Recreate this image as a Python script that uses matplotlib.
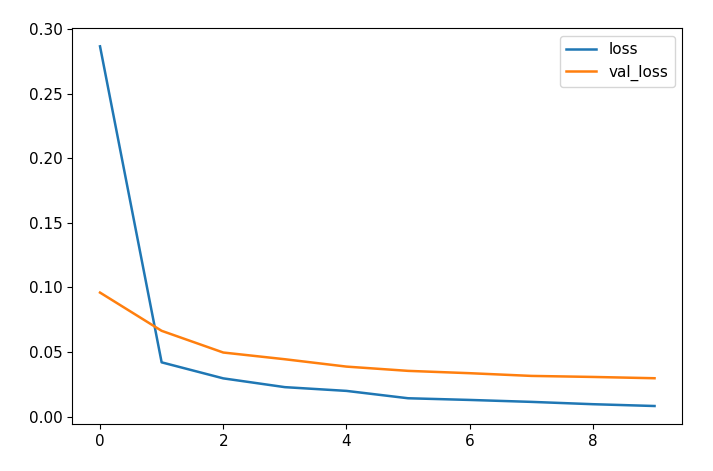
import matplotlib
matplotlib.use("Agg")
import matplotlib.pyplot as plt

# training history
epochs = [0, 1, 2, 3, 4, 5, 6, 7, 8, 9]
loss = [0.2866, 0.0420, 0.0296, 0.0228, 0.0199, 0.0142, 0.0129, 0.0114, 0.0096, 0.0082]
val_loss = [0.0960, 0.0664, 0.0496, 0.0444, 0.0387, 0.0354, 0.0336, 0.0315, 0.0307, 0.0297]

fig = plt.figure(figsize=(7.13, 4.71), dpi=100)
ax = fig.add_axes([0.1014, 0.0998, 0.8555, 0.840])

ax.plot(epochs, loss, label='loss', color='#1f77b4', lw=1.8)
ax.plot(epochs, val_loss, label='val_loss', color='#ff7f0e', lw=1.8)

ax.set_yticks([0.00, 0.05, 0.10, 0.15, 0.20, 0.25, 0.30])
ax.set_xticks([0, 2, 4, 6, 8])
ax.tick_params(labelsize=11)
ax.legend(fontsize=11)

fig.savefig('out.png', dpi=100)
